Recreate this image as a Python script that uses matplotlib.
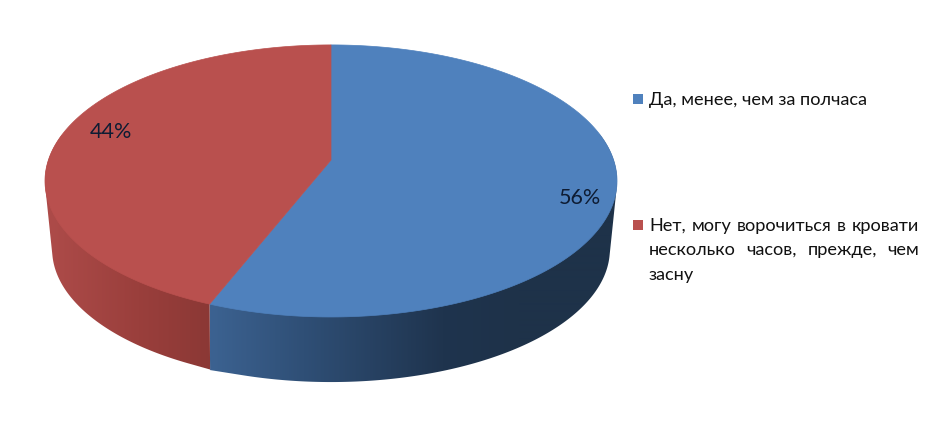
import numpy as np
import matplotlib
matplotlib.use("Agg")
import matplotlib.pyplot as plt
from matplotlib.colors import LinearSegmentedColormap, Normalize
from matplotlib.patches import Polygon

# data
categories = ["Да, менее, чем за полчаса",
              "Нет, могу ворочиться в кровати несколько часов, прежде, чем засну"]
values = [56, 44]
pct_labels = ["56%", "44%"]
top_colors = ["#4f81bd", "#b9504e"]
legend_lines = [["Да, менее, чем за полчаса"],
                ["Нет, могу ворочиться в кровати", "несколько часов, прежде, чем", "засну"]]

plt.rcParams["font.family"] = ["Lato", "DejaVu Sans"]
W, H = 933, 440
fig = plt.figure(figsize=(W / 100, H / 100), dpi=100)
ax = fig.add_axes([0, 0, 1, 1])

# perspective projection of a tilted disc
CX, CY = 331.0, 160.0
K, A, B = 0.154, 282.6, 132.8
SCALE_LOW, DROP = 0.975, 69.0


def project(t, lower=False):
    u, v = np.cos(t), np.sin(t)
    w = 1 + K * v
    x, y = A * u / w, -B * v / w
    if lower:
        return CX + SCALE_LOW * x, CY + DROP + SCALE_LOW * y
    return CX + x, CY + y


def hull(pts):
    pts = sorted(set(map(tuple, pts)))

    def half(seq):
        out = []
        for p in seq:
            while len(out) > 1 and ((out[-1][0] - out[-2][0]) * (p[1] - out[-2][1])
                                    - (out[-1][1] - out[-2][1]) * (p[0] - out[-2][0])) <= 0:
                out.pop()
            out.append(p)
        return out[:-1]

    return np.array(half(pts) + half(pts[::-1]))


total = sum(values)
start = np.pi / 2
bounds = [start]
for val in values:
    bounds.append(bounds[-1] - 2 * np.pi * val / total)

side_maps = [
    LinearSegmentedColormap.from_list("b", [(0, "#3c6291"), (0.3, "#2f4f76"), (0.75, "#1f344e"), (1, "#1e3249")]),
    LinearSegmentedColormap.from_list("r", [(0, "#ad4b49"), (0.55, "#9a3f3c"), (1, "#8b3835")]),
]
side_norms = [Normalize(211, 520), Normalize(50, 211)]

# sides: horizontal gradient clipped to the hull of both rims (front part only)
grad_x = np.arange(W) + 0.5
seam = project(bounds[1])[0]
for i in range(len(values)):
    ts = np.linspace(bounds[i], bounds[i + 1], 800)
    ts = ts[np.sin(ts) < 0.2]
    breaks = np.where(np.abs(np.diff(ts)) > 0.1)[0]
    if len(breaks):
        ts = ts[breaks[0] + 1:] if i == 1 else ts[:breaks[0] + 1]
    xt, yt = project(ts)
    xl, yl = project(ts, True)
    xl = np.where(np.abs(xl - seam) < 6, seam + 0.5, xl)
    pts = np.c_[np.r_[xt, xl], np.r_[yt, yl]]
    poly = Polygon(hull(pts), closed=True, transform=ax.transData,
                   facecolor="none", edgecolor="none")
    ax.add_patch(poly)
    rgba = side_maps[i](side_norms[i](grad_x))[None, :, :]
    im = ax.imshow(rgba, extent=(0, W, H, 0), aspect="auto", interpolation="bilinear", zorder=1)
    im.set_clip_path(poly)

# top faces
for i in range(len(values)):
    ts = np.linspace(bounds[i], bounds[i + 1], 400)
    xs, ys = project(ts)
    ax.fill(np.r_[CX, xs], np.r_[CY, ys], color=top_colors[i], lw=0.5, zorder=3)

# percentage labels
label_pos = [(579.5, 198), (110.5, 132)]
for s, (x, y) in zip(pct_labels, label_pos):
    ax.text(x, y, s, ha="center", va="center", fontsize=15.5, color="#0e1c33", zorder=5)

# legend with justified lines
LEFT, RIGHT = 649, 919
FS = 13.1
line_y = [[100], [226, 250, 275]]
marker_y = [99.5, 225.5]
r = fig.canvas.get_renderer()


def width(s):
    t = ax.text(0, 0, s, fontsize=FS)
    w = t.get_window_extent(r).width
    t.remove()
    return w


for i, lines in enumerate(legend_lines):
    ax.scatter([637.5], [marker_y[i]], marker="s", s=52, color=top_colors[i], lw=0, zorder=5)
    for j, (line, y) in enumerate(zip(lines, line_y[i])):
        justify = i == 1 and j < len(lines) - 1
        if not justify:
            ax.text(LEFT, y, line, ha="left", va="center", fontsize=FS, color="#111111")
            continue
        words = line.split()
        ws = [width(w) for w in words]
        gap = (RIGHT - LEFT - sum(ws)) / (len(words) - 1)
        x = LEFT
        for w, wd in zip(words, ws):
            ax.text(x, y, w, ha="left", va="center", fontsize=FS, color="#111111")
            x += wd + gap

ax.set_xlim(0, W)
ax.set_ylim(H, 0)
ax.axis("off")
fig.savefig("out.png", dpi=100, facecolor="white")
